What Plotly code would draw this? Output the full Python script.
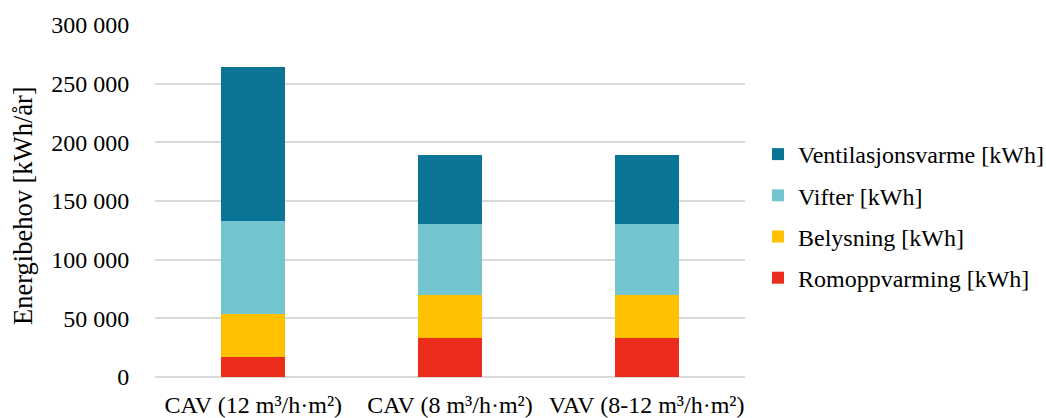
import plotly.graph_objects as go

# Ventilation alternatives and yearly energy demand per post (kWh/år)
categories = ["CAV (12 m³/h·m²)", "CAV (8 m³/h·m²)", "VAV (8-12 m³/h·m²)"]
romoppvarming = [17000, 33000, 33000]
belysning = [37000, 37000, 37000]
vifter = [78600, 60800, 60800]
ventilasjonsvarme = [132000, 58600, 58600]

series = [
    ("Romoppvarming [kWh]", romoppvarming, "#EC2D1B"),
    ("Belysning [kWh]", belysning, "#FFC000"),
    ("Vifter [kWh]", vifter, "#73C5D0"),
    ("Ventilasjonsvarme [kWh]", ventilasjonsvarme, "#0B7598"),
]

FONT = "Liberation Serif, Times New Roman, serif"
SIZE = 24

fig = go.Figure()
for i, (name, vals, col) in enumerate(series):
    fig.add_trace(go.Bar(
        x=categories, y=vals, name=name, marker_color=col,
        marker_line_width=0, legendgroup=f"g{i}",
        legendrank=len(series) - i,
    ))

plot_left, plot_right = 155, 745
plot_top, plot_bottom = 25, 377
plot_w = plot_right - plot_left
plot_h = plot_bottom - plot_top

fig.update_layout(
    width=1046, height=418,
    margin=dict(l=plot_left, r=1046 - plot_right, t=plot_top, b=418 - plot_bottom,
                autoexpand=False),
    barmode="stack", bargap=0.675,
    paper_bgcolor="white", plot_bgcolor="white",
    separators=", ",
    font=dict(family=FONT, size=SIZE, color="#000000"),
    showlegend=True,
    legend=dict(
        traceorder="grouped", tracegroupgap=7,
        x=1.022, xanchor="left", y=(plot_bottom - 216) / plot_h, yanchor="middle",
        font=dict(family=FONT, size=SIZE),
        itemwidth=30,
    ),
    xaxis=dict(
        showgrid=False, showline=False, zeroline=False,
        ticks="outside", ticklen=6, tickcolor="rgba(0,0,0,0)",
        tickfont=dict(family=FONT, size=SIZE),
    ),
    yaxis=dict(
        range=[0, 300000], dtick=50000, tickformat=",d",
        showgrid=True, gridcolor="#D9D9D9", gridwidth=1.5,
        zeroline=True, zerolinecolor="#D9D9D9", zerolinewidth=1.5,
        showline=False, ticks="outside", ticklen=20, tickcolor="rgba(0,0,0,0)",
        tickfont=dict(family=FONT, size=SIZE),
    ),
    annotations=[dict(
        text="Energibehov [kWh/år]", textangle=-90,
        xref="paper", yref="paper",
        x=-(plot_left - 23) / plot_w, y=(plot_bottom - 206) / plot_h,
        xanchor="center", yanchor="middle", showarrow=False,
        font=dict(family=FONT, size=26.5),
    )],
)

fig.write_html("out.html")
